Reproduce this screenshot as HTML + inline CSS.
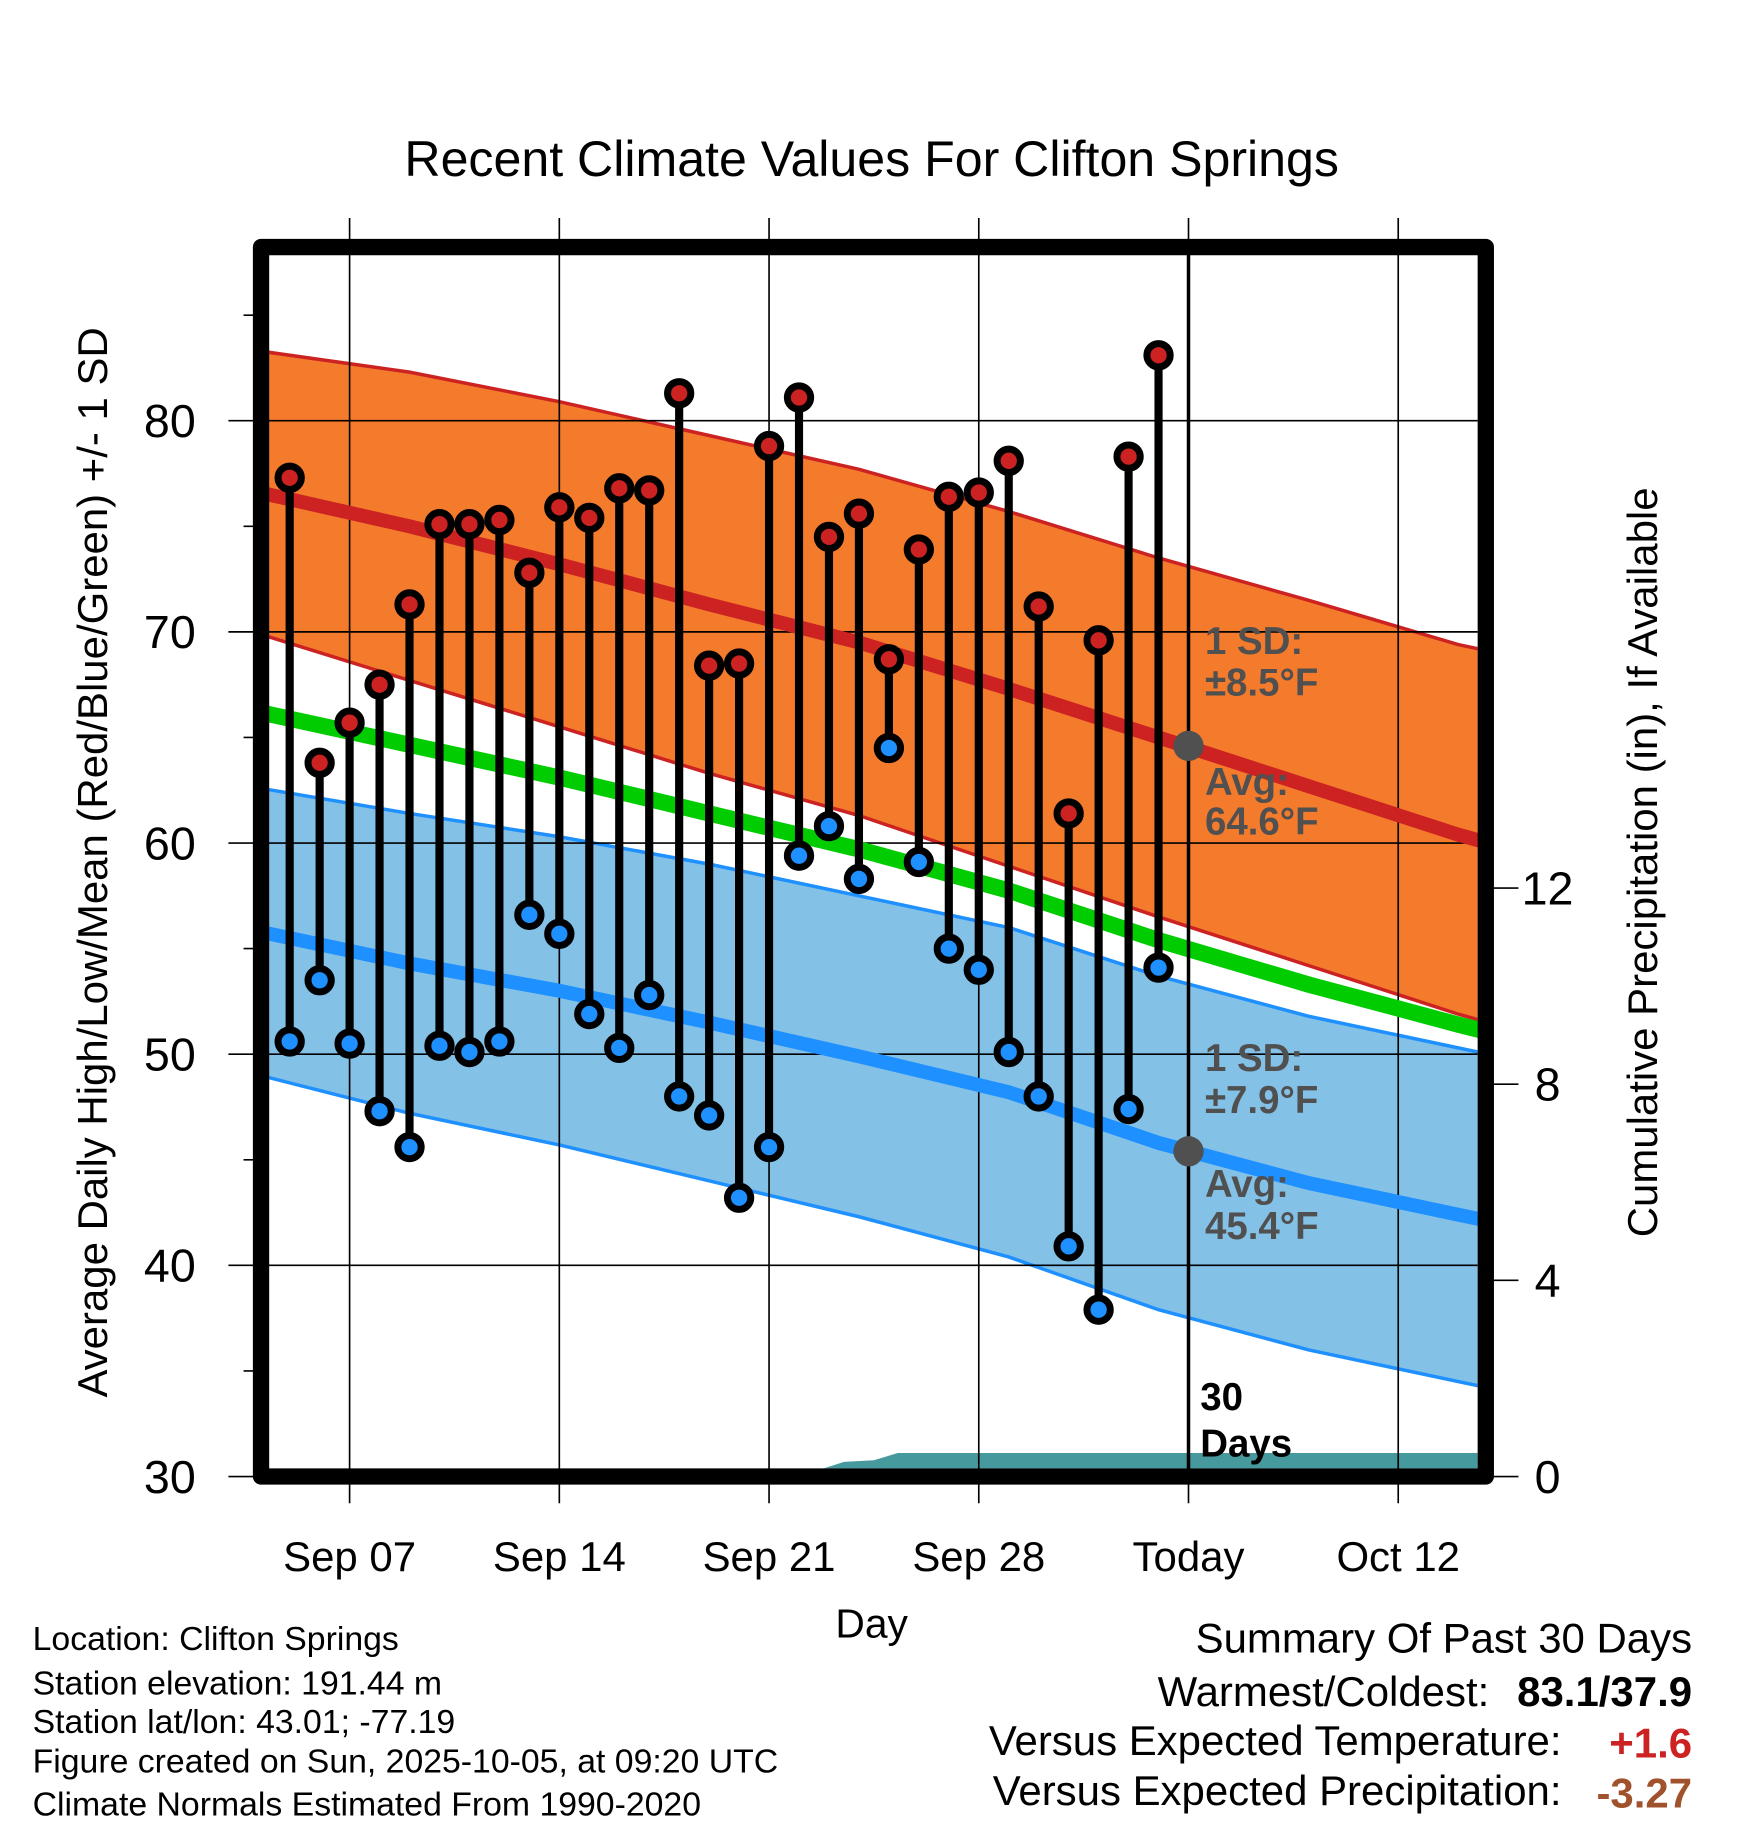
<!DOCTYPE html>
<html><head><meta charset="utf-8"><style>
html,body{margin:0;padding:0;background:#fff;}
svg{display:block;font-family:"Liberation Sans",Arial,sans-serif;}
</style></head><body>
<svg id="chart" width="1748" height="1828" viewBox="0 0 1500 1568.6" xmlns="http://www.w3.org/2000/svg">
<defs><clipPath id="plotclip"><rect x="230" y="219" width="1038" height="1041"/></clipPath></defs>
<text x="748" y="151" font-size="43" text-anchor="middle">Recent Climate Values For Clifton Springs</text>
<g id="plot" clip-path="url(#plotclip)"></g>
<g id="axes"></g>
<text x="748" y="1405" font-size="35" text-anchor="middle">Day</text>
<text transform="translate(92,740) rotate(-90)" font-size="36" text-anchor="middle">Average Daily High/Low/Mean (Red/Blue/Green) +/- 1 SD</text>
<text transform="translate(1422,740) rotate(-90)" font-size="36" text-anchor="middle">Cumulative Precipitation (in), If Available</text>
<g font-size="29">
<text x="28" y="1416">Location: Clifton Springs</text>
<text x="28" y="1454">Station elevation: 191.44 m</text>
<text x="28" y="1487">Station lat/lon: 43.01; -77.19</text>
<text x="28" y="1521">Figure created on Sun, 2025-10-05, at 09:20 UTC</text>
<text x="28" y="1558">Climate Normals Estimated From 1990-2020</text>
</g>
<g font-size="36" text-anchor="end">
<text x="1452" y="1418">Summary Of Past 30 Days</text>
<text x="1278" y="1464">Warmest/Coldest:</text>
<text x="1452" y="1464" font-weight="bold">83.1/37.9</text>
<text x="1340" y="1506">Versus Expected Temperature:</text>
<text x="1452" y="1508" font-weight="bold" fill="#cc2222">+1.6</text>
<text x="1340" y="1549">Versus Expected Precipitation:</text>
<text x="1452" y="1551" font-weight="bold" fill="#a0522d">-3.27</text>
</g>
</svg>
<script>
// ---- data ----
const obsDays = [-2,-1,0,1,2,3,4,5,6,7,8,9,10,11,12,13,14,15,16,17,18,19,20,21,22,23,24,25,26,27];
const highs = [77.3,63.8,65.7,67.5,71.3,75.1,75.1,75.3,72.8,75.9,75.4,76.8,76.7,81.3,68.4,68.5,78.8,81.1,74.5,75.6,68.7,73.9,76.4,76.6,78.1,71.2,61.4,69.6,78.3,83.1];
const lows = [50.6,53.5,50.5,47.3,45.6,50.4,50.1,50.6,56.6,55.7,51.9,50.3,52.8,48.0,47.1,43.2,45.6,59.4,60.8,58.3,64.5,59.1,55.0,54.0,50.1,48.0,40.9,37.9,47.4,54.1];
const normDays = [-3,2,7,12,17,22,27,32,37,38];
const normHigh = [76.6,75.0,73.2,71.3,69.5,67.3,65.0,62.7,60.4,60.0];
const highSDup = [6.7,7.3,7.7,8.0,8.2,8.4,8.5,8.8,9.0,9.1];
const highSDdn = [6.7,7.3,7.7,8.0,8.2,8.4,8.5,8.5,8.5,8.5];
const normLow = [55.8,54.3,53.0,51.5,49.9,48.2,45.8,43.9,42.4,42.1];
const lowSD = [6.8,7.1,7.3,7.5,7.6,7.8,7.9,7.9,7.9,7.9];
const precipDays = [-3,14.5,15.5,16.5,17.5,18.3,22,28,38];
const precipVals = [0,0,0.1,0.3,0.33,0.48,0.48,0.48,0.48];
const xTickDays = [0,7,14,21,28,35];
const xTickLabels = ["Sep 07","Sep 14","Sep 21","Sep 28","Today","Oct 12"];
const yTicks = [30,40,50,60,70,80];
const y2Ticks = [0,4,8,12];
// ---- axes ----
const X = d => 300 + d*25.71;
const Y = v => 1267 - (v-30)*18.12;
const Y2 = p => 1267 - p*42.08;
const NS = "http://www.w3.org/2000/svg";
function mk(tag, attrs, parent){const e=document.createElementNS(NS,tag);for(const k in attrs)e.setAttribute(k,attrs[k]);parent.appendChild(e);return e;}
const plot = document.getElementById('plot');
const axes = document.getElementById('axes');
function pts(days, vals, f){return days.map((d,i)=>X(d).toFixed(1)+','+f(vals[i]).toFixed(1));}
const hu = normHigh.map((v,i)=>v+highSDup[i]), hl = normHigh.map((v,i)=>v-highSDdn[i]);
const lu = normLow.map((v,i)=>v+lowSD[i]), ll = normLow.map((v,i)=>v-lowSD[i]);
const mean = normHigh.map((v,i)=>(v+normLow[i])/2);
let e;
e = mk('polygon',{points:pts(normDays,hu,Y).concat(pts(normDays,hl,Y).reverse()).join(' '),fill:'#f47a2c'},plot);


e = mk('polygon',{points:pts(normDays,lu,Y).concat(pts(normDays,ll,Y).reverse()).join(' '),fill:'#84c1e6'},plot);


[[hu,'#cc2222',3,'high-sd-upper'],[hl,'#cc2222',3,'high-sd-lower'],[lu,'#1e90ff',3,'low-sd-upper'],[ll,'#1e90ff',3,'low-sd-lower']].forEach(a=>{
  e = mk('polyline',{points:pts(normDays,a[0],Y).join(' '),fill:'none',stroke:a[1],'stroke-width':a[2]},plot);
  
  
});
e = mk('polygon',{points:pts(precipDays,precipVals,Y2).concat([X(38)+','+Y2(0),X(-3)+','+Y2(0)]).join(' '),fill:'#46999c'},plot);


yTicks.forEach(v=>{
  e = mk('line',{x1:196,x2:1268,y1:Y(v),y2:Y(v),stroke:'#000','stroke-width':1.4},axes);
  
  
  e = mk('text',{x:168,y:Y(v)+14,'font-size':40,'text-anchor':'end'},axes);
  e.textContent=v;
  
  
});
[35,45,55,65,75,85].forEach(v=>{mk('line',{x1:209,x2:225,y1:Y(v),y2:Y(v),stroke:'#000','stroke-width':1.4},axes);});
xTickDays.forEach((d,i)=>{
  e = mk('line',{x1:X(d),x2:X(d),y1:187,y2:1290,stroke:'#000','stroke-width':1.4},axes);
  
  
  e = mk('text',{x:X(d),y:1348,'font-size':36,'text-anchor':'middle'},axes);
  e.textContent=xTickLabels[i];
  
  
});
y2Ticks.forEach(p=>{
  mk('line',{x1:1275,x2:1303,y1:Y2(p),y2:Y2(p),stroke:'#000','stroke-width':1.4},axes);
  e = mk('text',{x:1328,y:Y2(p)+14,'font-size':40,'text-anchor':'middle'},axes);
  e.textContent=p;
  
  
});
[[normHigh,'#cc2222',12,'normal-high-line'],[normLow,'#1e90ff',12,'normal-low-line'],[mean,'#00cc00',14,'normal-mean-line']].forEach(a=>{
  e = mk('polyline',{points:pts(normDays,a[0],Y).join(' '),fill:'none',stroke:a[1],'stroke-width':a[2]},axes);
  
  
});
e = mk('line',{x1:X(28),x2:X(28),y1:212,y2:1267,stroke:'#000','stroke-width':3},axes);


obsDays.forEach((d,i)=>{
  e = mk('line',{x1:X(d),x2:X(d),y1:Y(highs[i]),y2:Y(lows[i]),stroke:'#000','stroke-width':7},axes);
  
  
  e = mk('circle',{cx:X(d),cy:Y(highs[i]),r:10,fill:'#cc2222',stroke:'#000','stroke-width':6},axes);
  
  
  e = mk('circle',{cx:X(d),cy:Y(lows[i]),r:10,fill:'#1e90ff',stroke:'#000','stroke-width':6},axes);
  
  
});
const ann = [[550,'1 SD:'],[586,'±8.5°F'],[671,'Avg:'],[705,'64.6°F'],[908,'1 SD:'],[944,'±7.9°F'],[1016,'Avg:'],[1052,'45.4°F']];
ann.forEach(a=>{
  e = mk('text',{x:1034,y:a[0]+11,'font-size':33,'font-weight':'bold',fill:'#505050'},axes);
  e.textContent=a[1];
  
  
});
[64.6,45.4].forEach(v=>{
  e = mk('circle',{cx:X(28),cy:Y(v),r:13,fill:'#505050'},axes);
  
  
});
e = mk('text',{x:1030,y:1210,'font-size':33,'font-weight':'bold'},axes);
e.textContent='30';


e = mk('text',{x:1030,y:1250,'font-size':33,'font-weight':'bold'},axes);
e.textContent='Days';


e = mk('rect',{x:224,y:212,width:1051,height:1055,fill:'none',stroke:'#000','stroke-width':14,'stroke-linejoin':'round'},axes);


</script>
</body></html>
